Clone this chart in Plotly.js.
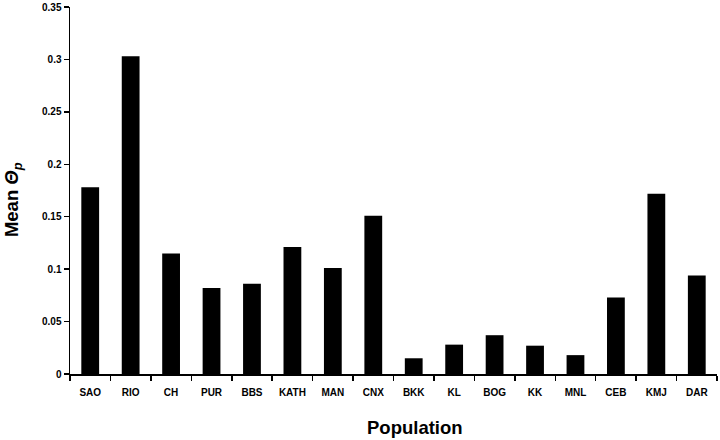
<!DOCTYPE html>
<html>
<head>
<meta charset="utf-8">
<script src="https://cdn.plot.ly/plotly-3.0.1.min.js"></script>
<style>
  body { margin: 0; background: #fff; }
  #chart { width: 720px; height: 440px; }
</style>
</head>
<body>
<div id="chart"></div>
<script>
  var populations = ['SAO', 'RIO', 'CH', 'PUR', 'BBS', 'KATH', 'MAN', 'CNX',
                     'BKK', 'KL', 'BOG', 'KK', 'MNL', 'CEB', 'KMJ', 'DAR'];
  var meanTheta = [0.178, 0.303, 0.115, 0.082, 0.086, 0.121, 0.101, 0.151,
                   0.015, 0.028, 0.037, 0.027, 0.018, 0.073, 0.172, 0.094];
  var yTicks = [0, 0.05, 0.1, 0.15, 0.2, 0.25, 0.3, 0.35];

  var trace = {
    x: populations,
    y: meanTheta,
    type: 'bar',
    marker: { color: '#000', line: { width: 0 } },
    hoverinfo: 'x+y'
  };

  var fam = 'Liberation Sans, Arial, sans-serif';
  var axisFont = { family: fam, size: 10, color: '#000', weight: 'bold' };
  var titleFont = { family: fam, size: 18.5, color: '#000', weight: 'bold' };

  var layout = {
    width: 720,
    height: 440,
    margin: { l: 70, r: 3, t: 7, b: 66 },
    paper_bgcolor: '#fff',
    plot_bgcolor: '#fff',
    showlegend: false,
    bargap: 0.56,
    font: { family: fam, color: '#000' },
    xaxis: {
      showline: true,
      linecolor: '#000',
      linewidth: 1.5,
      ticks: 'outside',
      tickson: 'boundaries',
      ticklen: 5,
      tickcolor: '#000',
      tickwidth: 1.5,
      tickfont: axisFont,
      ticklabelstandoff: 8,
      showgrid: false,
      zeroline: false,
      automargin: false
    },
    yaxis: {
      range: [0, 0.35],
      tickvals: yTicks,
      ticktext: yTicks.map(String),
      showline: true,
      linecolor: '#000',
      linewidth: 1.5,
      ticks: 'outside',
      ticklen: 5,
      tickcolor: '#000',
      tickwidth: 1.5,
      tickfont: axisFont,
      showgrid: false,
      zeroline: false,
      automargin: false
    },
    // axis titles as annotations so they sit where the original has them
    annotations: [
      {
        text: 'Population',
        xref: 'paper', yref: 'paper',
        x: 0.534, y: -0.147,
        xanchor: 'center', yanchor: 'middle',
        showarrow: false,
        font: titleFont
      },
      {
        text: 'Mean <i>Θ<sub>p</sub></i>',
        xref: 'paper', yref: 'paper',
        x: -0.089, y: 0.475,
        xanchor: 'center', yanchor: 'middle',
        textangle: -90,
        showarrow: false,
        font: titleFont
      }
    ]
  };

  Plotly.newPlot('chart', [trace], layout, { displayModeBar: false, staticPlot: true });
</script>
</body>
</html>
